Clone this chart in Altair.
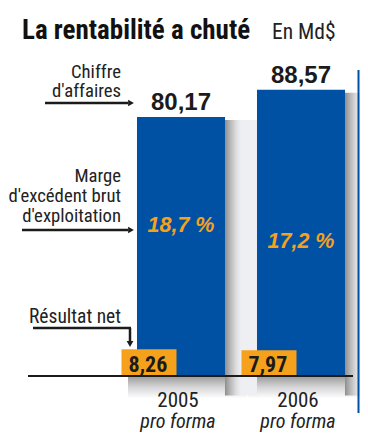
import altair as alt
import pandas as pd

# ---- data ----
years = ["2005", "2006"]
chiffre = [80.17, 88.57]        # Chiffre d'affaires, Md$
marge = [18.7, 17.2]            # Marge d'EBE, %
resultat = [8.26, 7.97]         # Résultat net, Md$
year_sub = ["pro forma", "pro forma"]

def fr(v, nd=2):
    return f"{v:.{nd}f}".replace(".", ",")

df = pd.DataFrame({
    "year": years,
    "ca": chiffre,
    "marge": marge,
    "rn": resultat,
    "ca_lbl": [fr(v) for v in chiffre],
    "marge_lbl": [fr(v, 1) + " %" for v in marge],
    "rn_lbl": [fr(v) for v in resultat],
    "sub": year_sub,
})

W, H = 352, 424
BLUE = "#0051a3"
ORANGE = "#f6a11c"
DARK = "#1b1b1b"
NARROW = "Roboto Condensed, Liberation Sans Narrow, Roboto, sans-serif"
WIDE = "Liberation Sans, Arial, sans-serif"

YMAIN = alt.Scale(domain=[-17.334, 113.91], nice=False, zero=False)
YMARGE = alt.Scale(domain=[-0.05, 39.70], nice=False, zero=False)
XS = alt.Scale(paddingInner=0.26667, paddingOuter=0.6, align=0.8958)

X = alt.X("year:N", scale=XS, axis=None)

base = alt.Chart(df)

# shadow under bars (below baseline)
shadow_bottom = base.mark_bar(
    width=118, xOffset=6,
    color=alt.Gradient(gradient="linear",
                       stops=[alt.GradientStop(color="#9a9a9a", offset=0),
                              alt.GradientStop(color="#d6d6d8", offset=0.5),
                              alt.GradientStop(color="#ffffff", offset=1)],
                       x1=0, x2=0, y1=0, y2=1),
).encode(x=X, y=alt.YDatum(0, scale=YMAIN, axis=None), y2=alt.Y2Datum(-7))

# shadow right of bars
shadow_right = base.mark_bar(
    width=32, xOffset=60, yOffset=3,
    color=alt.Gradient(gradient="linear",
                       stops=[alt.GradientStop(color="#8e8e8e", offset=0),
                              alt.GradientStop(color="#b4b4b4", offset=0.15),
                              alt.GradientStop(color="#dedee0", offset=0.35),
                              alt.GradientStop(color="#eeeff3", offset=0.5),
                              alt.GradientStop(color="#eeeff3", offset=1)],
                       x1=0, x2=1, y1=0, y2=0),
).encode(x=X, y=alt.Y("ca:Q", scale=YMAIN, axis=None), y2=alt.Y2Datum(-6))

bars = base.mark_bar(color=BLUE).encode(
    x=X, y=alt.Y("ca:Q", scale=YMAIN, axis=None), y2=alt.Y2Datum(0))

orange = base.mark_bar(color=ORANGE, width=55, xOffset=-32).encode(
    x=X, y=alt.Y("rn:Q", scale=YMAIN, axis=None), y2=alt.Y2Datum(0))

baseline = base.mark_rule(color=DARK, strokeWidth=2).encode(
    x=alt.value(20), x2=alt.value(345), y=alt.YDatum(0, scale=YMAIN, axis=None))

ca_text = base.mark_text(font=WIDE, fontWeight="bold", fontSize=24, color=DARK,
                         baseline="alphabetic", dy=-7).encode(
    x=X, y=alt.Y("ca:Q", scale=YMAIN, axis=None), text="ca_lbl:N")

marge_text = base.mark_text(font=WIDE, fontWeight="bold", fontStyle="italic",
                            fontSize=21.5, color=ORANGE, baseline="alphabetic").encode(
    x=X, y=alt.Y("marge:Q", scale=YMARGE, axis=None), text="marge_lbl:N")

rn_text = base.mark_text(font=NARROW, fontWeight="bold", fontSize=22, color=DARK,
                         baseline="alphabetic", dx=-33, dy=-4).encode(
    x=X, y=alt.YDatum(0, scale=YMAIN, axis=None), text="rn_lbl:N")

year_text = base.mark_text(font=NARROW, fontSize=21, color="#222222",
                           baseline="alphabetic", dx=-3).encode(
    x=X, y=alt.value(399), text="year:N")
sub_text = base.mark_text(font=NARROW, fontSize=20, fontStyle="italic", color="#222222",
                          baseline="alphabetic", dx=-3).encode(
    x=X, y=alt.value(419.5), text="sub:N")


def annot(txt, x, y, **kw):
    opts = dict(font=NARROW, fontSize=18.7, color="#222222", baseline="alphabetic", align="right")
    opts.update(kw)
    return alt.Chart(pd.DataFrame({"t": [txt]})).mark_text(**opts).encode(
        x=alt.value(x), y=alt.value(y), text="t:N")


def hline(x1, x2, y, w=2.5):
    return alt.Chart(pd.DataFrame({"a": [0]})).mark_rule(color=DARK, strokeWidth=w).encode(
        x=alt.value(x1), x2=alt.value(x2), y=alt.value(y))


def vline(x, y1, y2, w=2.5):
    return alt.Chart(pd.DataFrame({"a": [0]})).mark_rule(color=DARK, strokeWidth=w).encode(
        x=alt.value(x), y=alt.value(y1), y2=alt.value(y2))


def head(x, y, shape):
    return alt.Chart(pd.DataFrame({"a": [0]})).mark_point(
        shape=shape, filled=True, color=DARK, size=45, opacity=1).encode(
        x=alt.value(x), y=alt.value(y))


title = annot("La rentabilité a chuté", 14, 31, fontSize=27, fontWeight="bold",
              align="left", color="#111111")
unit = annot("En Md$", 264, 31, fontSize=21.5, align="left", color="#222222")

labels = [
    annot("Chiffre", 113, 69.5),
    annot("d'affaires", 113, 89),
    hline(37, 120, 95), head(123, 95, "triangle-right"),
    annot("Marge", 113, 174),
    annot("d'excédent brut", 113, 194),
    annot("d'exploitation", 113, 214),
    hline(14, 120, 222), head(123, 222, "triangle-right"),
    annot("Résultat net", 113, 315, fontSize=19.5),
    hline(25, 123, 320), vline(122, 320, 334), head(122, 336, "triangle-down"),
]

right_line = alt.Chart(pd.DataFrame({"a": [0]})).mark_rule(color=BLUE, strokeWidth=2).encode(
    x=alt.value(350.5), y=alt.value(62), y2=alt.value(405))

chart = alt.layer(
    shadow_bottom, shadow_right, bars, orange, baseline,
    ca_text, marge_text, rn_text, year_text, sub_text,
    title, unit, *labels, right_line,
).resolve_scale(y="independent").properties(
    width=W, height=H, autosize=alt.AutoSizeParams(type="none"), padding=0,
    background="white",
).configure_view(stroke=None)

chart.save("out.html", embed_options={"renderer": "svg", "actions": False})
